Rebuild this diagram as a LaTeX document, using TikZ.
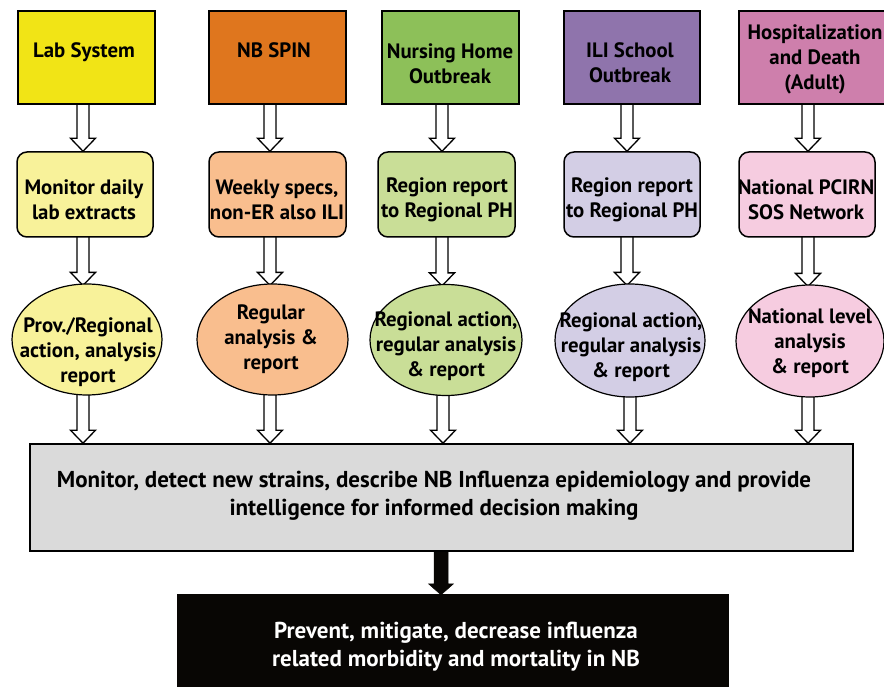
\documentclass[tikz,border=0pt]{standalone}
\usepackage{fontspec}
\setmainfont{PT Sans}
\usetikzlibrary{calc,backgrounds,shapes.geometric}
\definecolor{cYel}{RGB}{241,228,22}
\definecolor{cOra}{RGB}{223,118,30}
\definecolor{cGre}{RGB}{141,192,89}
\definecolor{cPur}{RGB}{143,116,172}
\definecolor{cPin}{RGB}{206,127,172}
\definecolor{lYel}{RGB}{248,242,154}
\definecolor{lOra}{RGB}{249,190,142}
\definecolor{lGre}{RGB}{201,222,151}
\definecolor{lPur}{RGB}{211,206,229}
\definecolor{lPin}{RGB}{246,204,224}
\definecolor{cGray}{RGB}{218,218,218}
\definecolor{cBlk}{RGB}{8,6,4}
\tikzset{
  topbox/.style={draw=black, line width=1.5pt, minimum width=137pt, minimum height=93pt, inner sep=0pt},
  midbox/.style={draw=black, line width=1.5pt, rounded corners=10pt, minimum width=136pt, minimum height=85pt, inner sep=0pt},
  ovalbox/.style={draw=black, line width=1.2pt, ellipse, minimum width=150pt, minimum height=111pt, inner sep=0pt},
  txt/.style={font=\bfseries\fontsize{20.8}{25}\selectfont, align=center, inner sep=0pt},
  bigtxt/.style={font=\bfseries\fontsize{23}{28}\selectfont, align=center, inner sep=0pt},
  hollow/.style={draw=black, line width=1.3pt, fill=white, line join=miter,
    to path={ -- ($(\tikztostart)+(-6,0)$) -- ($(\tikztotarget)+(-6,-13)$) -- ($(\tikztotarget)+(-12.5,-13)$) -- (\tikztotarget) -- ($(\tikztotarget)+(12.5,-13)$) -- ($(\tikztotarget)+(6,-13)$) -- ($(\tikztostart)+(6,0)$) -- cycle}},
  solidarr/.style={draw=cBlk, fill=cBlk, line width=0.5pt,
    to path={ -- ($(\tikztostart)+(-7,0)$) -- ($(\tikztotarget)+(-7,-11)$) -- ($(\tikztotarget)+(-12.5,-11)$) -- (\tikztotarget) -- ($(\tikztotarget)+(12.5,-11)$) -- ($(\tikztotarget)+(7,-11)$) -- ($(\tikztostart)+(7,0)$) -- cycle}}
}
\begin{document}
\begin{tikzpicture}[x=1pt,y=-1pt]
\useasboundingbox (0,0) rectangle (884,687);
% column axes
\coordinate (c1) at (83,0);
\coordinate (c2) at (270,0);
\coordinate (c3) at (442,0);
\coordinate (c4) at (627,0);
\coordinate (c5) at (808,0);
\coordinate (d1) at (83,0);
\coordinate (d2) at (270,0);
\coordinate (d3) at (443,0);
\coordinate (d4) at (630,0);
\coordinate (d5) at (808,0);
% top boxes
\node[topbox, fill=cYel] (t1) at (86.5,57.5) {};
\node[topbox, fill=cOra] (t2) at (277.5,57.5) {};
\node[topbox, fill=cGre] (t3) at (450.5,57.5) {};
\node[topbox, fill=cPur, minimum width=136pt] (t4) at (632,57.5) {};
\node[topbox, fill=cPin, minimum width=150pt] (t5) at (814,57.5) {};
\node[txt] (tt1) at (84,52) {Lab System};
\node[txt] (tt2) at (274,50) {NB SPIN};
\node[txt] (tt3) at (450,64) {Nursing Home\\Outbreak};
\node[txt] (tt4) at (630,62.5) {ILI School\\Outbreak};
\node[txt] (tt5) at (815,59.5) {Hospitalization\\and Death\\(Adult)};
% middle rounded boxes
\node[midbox, fill=lYel] (r1) at (85,194.5) {};
\node[midbox, fill=lOra, minimum width=137pt] (r2) at (277.5,194.5) {};
\node[midbox, fill=lGre, minimum width=137pt] (r3) at (446.5,194.5) {};
\node[midbox, fill=lPur] (r4) at (632,194.5) {};
\node[midbox, fill=lPin] (r5) at (807,194.5) {};
\node[txt] (rt1) at (84,199.5) {Monitor daily\\lab extracts};
\node[txt] (rt2) at (277,199.5) {Weekly specs,\\non-ER also ILI};
\node[txt] (rt3) at (447,199.5) {Region report\\to Regional PH};
\node[txt] (rt4) at (632,199.5) {Region report\\to Regional PH};
\node[txt] (rt5) at (806,199.5) {National PCIRN\\SOS Network};
% ellipses
\node[ovalbox, fill=lYel] (e1) at (87,339.5) {};
\node[ovalbox, fill=lOra, minimum width=151pt] (e2) at (272.5,339.5) {};
\node[ovalbox, fill=lGre, minimum width=152pt] (e3) at (446,340) {};
\node[ovalbox, fill=lPur, minimum height=113pt] (e4) at (630,340.5) {};
\node[ovalbox, fill=lPin, minimum width=148pt, minimum height=112pt] (e5) at (810,341) {};
\node[txt] (et1) at (88,352.5) {Prov./Regional\\action, analysis\\report};
\node[txt] (et2) at (271,339) {Regular\\analysis \&\\report};
\node[txt] (et3) at (446,346) {Regional action,\\regular analysis\\\& report};
\node[txt] (et4) at (631,347) {Regional action,\\regular analysis\\\& report};
\node[txt] (et5) at (810,343) {National level\\analysis\\\& report};
% bottom boxes
\node[draw=black, line width=1.6pt, fill=cGray, minimum width=823pt, minimum height=107pt, inner sep=0pt] (g) at (441.5,497.5) {};
\node[bigtxt] (gt) at (434,496) {Monitor, detect new strains, describe NB Influenza epidemiology and provide\\intelligence for informed decision making};
\node[fill=cBlk, minimum width=552pt, minimum height=100pt, inner sep=0pt] (b) at (453,644) {};
\node[bigtxt, text=white] (bt) at (456,647) {Prevent, mitigate, decrease influenza\\related morbidity and mortality in NB};
% arrows
\begin{scope}[on background layer]
\foreach \i in {1,...,5}{
  \draw[hollow] ($(t\i.south -| c\i)+(0,-2)$) to (r\i.north -| c\i);
  \draw[hollow] ($(r\i.south -| c\i)+(0,-2)$) to ($(e\i.north -| c\i)+(0,2)$);
  \draw[hollow] ($(e\i.south -| d\i)+(0,-4)$) to (g.north -| d\i);
}
\coordinate (ga) at (441,0);
\draw[solidarr] ($(g.south -| ga)+(0,-1)$) to ($(b.north -| ga)+(0,1)$);
\end{scope}
\end{tikzpicture}
\end{document}
